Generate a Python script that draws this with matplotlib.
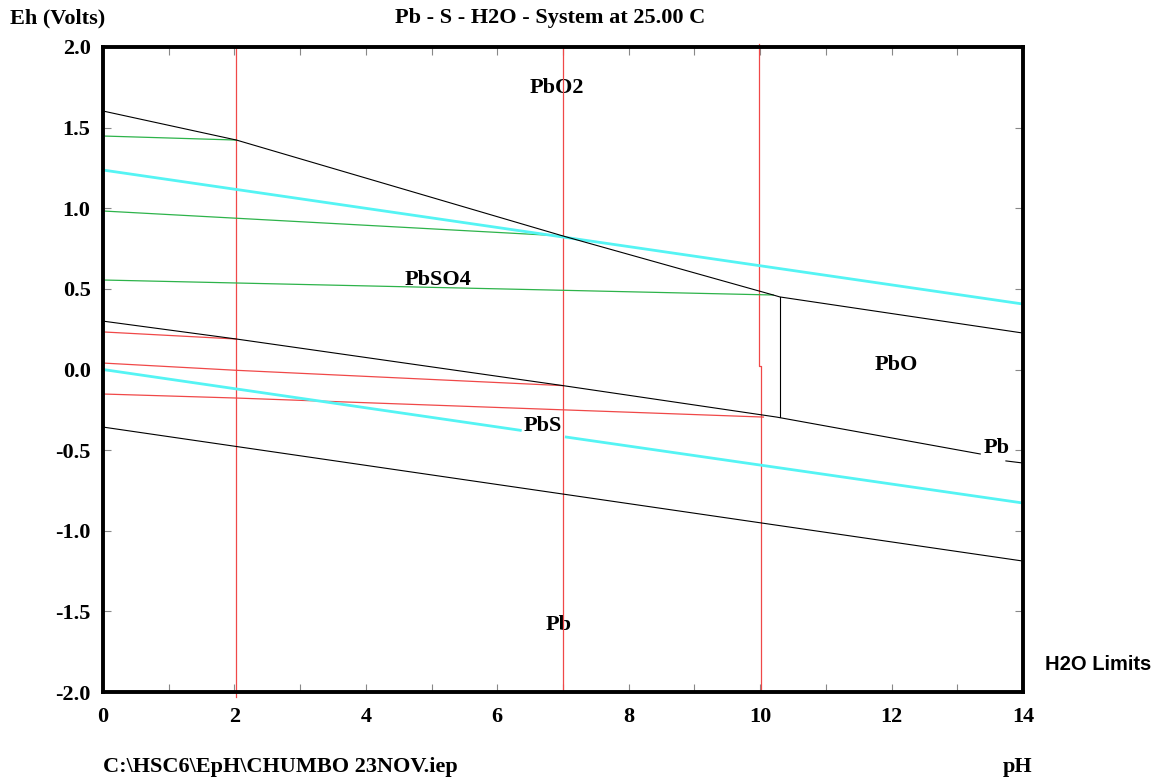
import matplotlib
matplotlib.use("Agg")
import matplotlib.pyplot as plt

# ----------------------------
# data (pH, Eh)
# ----------------------------
pbo2_ph = [0.0, 2.03, 7.0, 10.2, 10.3, 14.0]
pbo2_eh = [1.603, 1.423, 0.828, 0.462, 0.45, 0.226]

# PbSO4 / PbS / PbO -> Pb boundary, broken where the "Pb" label sits
pbs_ph = [[0.0, 2.03, 7.0, 10.25, 13.35], [13.74, 14.0]]
pbs_eh = [[0.30, 0.189, -0.10, -0.295, -0.524], [-0.567, -0.58]]

pbo_vert_ph = [10.3, 10.3]
pbo_vert_eh = [0.45, -0.295]

pb_low_ph = [0.0, 14.0]
pb_low_eh = [-0.357, -1.188]

# water limits (the lower one is broken at the "PbS" label)
h2o_up_ph = [0.0, 14.0]
h2o_up_eh = [1.237, 0.406]
h2o_low_ph = [[0.0, 6.35], [7.05, 14.0]]
h2o_low_eh = [[0.0, -0.377], [-0.419, -0.828]]

green_ph = [[0.0, 2.03], [0.0, 7.0], [0.0, 10.2]]
green_eh = [[1.448, 1.423], [0.983, 0.828], [0.555, 0.462]]

red_ph = [[0.0, 2.03], [0.0, 2.03, 7.0], [0.0, 2.03, 10.05]]
red_eh = [[0.233, 0.189], [0.040, -0.005, -0.10], [-0.152, -0.177, -0.295]]

red_vert_ph = [[2.02, 2.02], [7.0, 7.0], [9.99, 9.99, 10.015, 10.015]]
red_vert_eh = [[2.0, -2.03], [2.0, -2.0], [2.02, 0.022, 0.022, -2.0]]

labels = ["PbO2", "PbSO4", "PbO", "PbS", "Pb", "Pb"]
label_ph = [6.9, 5.1, 12.07, 6.7, 13.6, 6.93]
label_eh = [1.746, 0.555, 0.028, -0.35, -0.487, -1.585]

xticks = [0, 2, 4, 6, 8, 10, 12, 14]
yticks = [2.0, 1.5, 1.0, 0.5, 0.0, -0.5, -1.0, -1.5, -2.0]

RED = "#f04848"
GREEN = "#2db34a"
CYAN = "#55f4f4"
SERIF = "Liberation Serif"
FS = 16

fig = plt.figure(figsize=(11.73, 7.83), dpi=100)
ax = fig.add_axes([103 / 1173, 1 - 692 / 783, 920 / 1173, 645 / 783])
ax.set_xlim(0, 14)
ax.set_ylim(-2, 2)

# red and green boundaries
for px, py in zip(red_vert_ph, red_vert_eh):
    ax.plot(px, py, color=RED, lw=0.9, clip_on=False, zorder=2)
for px, py in zip(red_ph, red_eh):
    ax.plot(px, py, color=RED, lw=0.9, zorder=2)
for px, py in zip(green_ph, green_eh):
    ax.plot(px, py, color=GREEN, lw=0.9, zorder=2)

# water limits
ax.plot(h2o_up_ph, h2o_up_eh, color=CYAN, lw=2.0, zorder=3)
for px, py in zip(h2o_low_ph, h2o_low_eh):
    ax.plot(px, py, color=CYAN, lw=2.0, zorder=3)

# black stability boundaries
ax.plot(pbo2_ph, pbo2_eh, color="black", lw=0.8, zorder=4)
for px, py in zip(pbs_ph, pbs_eh):
    ax.plot(px, py, color="black", lw=0.8, zorder=4)
ax.plot(pbo_vert_ph, pbo_vert_eh, color="black", lw=0.8, zorder=4)
ax.plot(pb_low_ph, pb_low_eh, color="black", lw=0.8, zorder=4)

for t, x, y in zip(labels, label_ph, label_eh):
    ax.text(x, y, t, ha="center", va="center", fontsize=FS, fontweight="bold",
            family=SERIF, zorder=1)

# frame and ticks
for s in ax.spines.values():
    s.set_linewidth(2.8)
    s.set_zorder(7)
ax.set_xticks(range(0, 15))
ax.set_xticklabels([str(v) if v in xticks else "" for v in range(0, 15)])
ax.set_yticks(yticks)
ax.set_yticklabels([f"{v:.1f}" for v in yticks])
ax.tick_params(direction="in", length=6, width=0.8, color="#888888",
               top=True, right=True, labelsize=FS)
ax.tick_params(axis="x", pad=11)
ax.tick_params(axis="y", pad=9)
for lab in ax.get_xticklabels() + ax.get_yticklabels():
    lab.set_family(SERIF)
    lab.set_fontweight("bold")

# texts around the plot
fig.text(10 / 1173, 1 - 18 / 783, "Eh (Volts)", ha="left", va="center",
         fontsize=FS, fontweight="bold", family=SERIF)
fig.text(550 / 1173, 1 - 18 / 783, "Pb - S - H2O - System at 25.00 C", ha="center",
         va="center", fontsize=FS, fontweight="bold", family=SERIF)
fig.text(103 / 1173, 1 - 767 / 783, "C:\\HSC6\\EpH\\CHUMBO 23NOV.iep", ha="left",
         va="center", fontsize=FS, fontweight="bold", family=SERIF)
fig.text(1018 / 1173, 1 - 767 / 783, "pH", ha="center", va="center",
         fontsize=FS, fontweight="bold", family=SERIF)
fig.text(1045 / 1173, 1 - 664 / 783, "H2O Limits", ha="left", va="center",
         fontsize=14.5, fontweight="bold", family="Liberation Sans")

fig.savefig("out.png", dpi=100)
